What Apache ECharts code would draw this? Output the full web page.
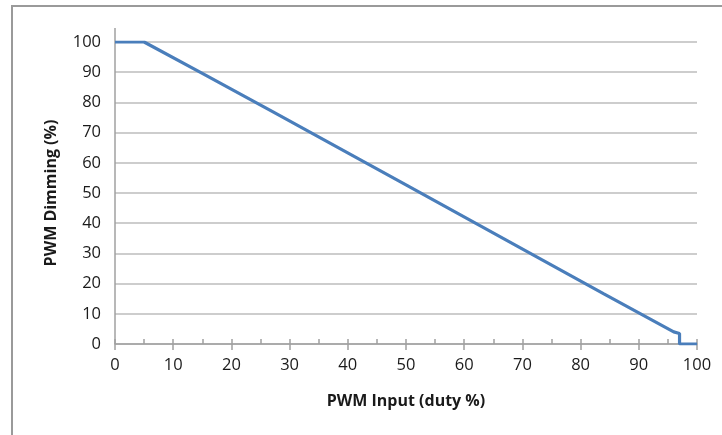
<!DOCTYPE html>
<html>
<head>
<meta charset="utf-8">
<script src="https://cdn.jsdelivr.net/npm/echarts@6/dist/echarts.min.js"></script>
<style>
html,body{margin:0;padding:0;background:#fff;}
#frame{position:absolute;left:11px;top:5px;width:800px;height:500px;border-top:2px solid #9a9a9a;border-left:2px solid #9a9a9a;}
#chart{position:absolute;left:0;top:0;width:722px;height:435px;}
</style>
</head>
<body>
<div id="frame"></div>
<div id="chart"></div>
<script>
// Data
const dutyInput = [0, 5, 15, 27, 50, 73, 84, 96, 97, 97, 100];
const dimming   = [100, 100, 89.6, 77, 52.7, 28.3, 16.6, 4, 3.5, 0, 0];
const xTicks = [0, 10, 20, 30, 40, 50, 60, 70, 80, 90, 100];
const yTicks = [0, 10, 20, 30, 40, 50, 60, 70, 80, 90, 100];
const xTitle = 'PWM Input (duty %)';
const yTitle = 'PWM Dimming (%)';

const font = '"Open Sans", "Liberation Sans", sans-serif';
const txt = '#1a1a1a';
const axisGrey = '#a0a0a0';
const points = dutyInput.map((x, i) => [x, dimming[i]]);

const chart = echarts.init(document.getElementById('chart'), null, {renderer: 'canvas'});
chart.setOption({
  animation: false,
  backgroundColor: 'transparent',
  grid: [
    {left: 115, right: 25, top: 42, bottom: 91, containLabel: false},
    {left: 115, right: 25, top: 28, bottom: 91, containLabel: false}
  ],
  xAxis: [
    {
      type: 'value', gridIndex: 0, position: 'bottom',
      min: xTicks[0], max: xTicks[xTicks.length - 1], interval: 5,
      axisLine: {show: true, lineStyle: {color: axisGrey, width: 1.5}},
      axisTick: {show: true, inside: true, length: 5, lineStyle: {color: axisGrey, width: 1.5}},
      axisLabel: {
        color: txt, fontFamily: font, fontSize: 16.5, margin: 13,
        formatter: v => (xTicks.indexOf(v) >= 0 ? String(v) : '')
      },
      splitLine: {show: false},
      name: xTitle, nameLocation: 'middle', nameGap: 49,
      nameTextStyle: {color: txt, fontFamily: font, fontSize: 16, fontWeight: 'bold'}
    },
    {
      type: 'value', gridIndex: 0, position: 'bottom',
      min: xTicks[0], max: xTicks[xTicks.length - 1], interval: 10,
      axisLine: {show: false},
      axisTick: {show: true, inside: false, length: 6, lineStyle: {color: axisGrey, width: 1.5}},
      axisLabel: {show: false},
      splitLine: {show: false}
    },
    {
      type: 'value', gridIndex: 1, min: 0, max: 100, position: 'top',
      axisLine: {show: false}, axisTick: {show: false}, axisLabel: {show: false},
      splitLine: {show: false}
    }
  ],
  yAxis: [
    {
      type: 'value', gridIndex: 0,
      min: yTicks[0], max: yTicks[yTicks.length - 1], interval: 10,
      axisLine: {show: false},
      axisTick: {show: false},
      axisLabel: {color: txt, fontFamily: font, fontSize: 16.5, margin: 14},
      splitLine: {show: true, lineStyle: {color: '#bdbdbd', width: 1.5}},
      name: yTitle, nameLocation: 'middle', nameGap: 56,
      nameTextStyle: {color: txt, fontFamily: font, fontSize: 16, fontWeight: 'bold'}
    },
    {
      type: 'value', gridIndex: 1, min: 0, max: 100, position: 'left',
      axisLine: {show: false}, axisTick: {show: false},
      axisLabel: {show: false}, splitLine: {show: false}
    }
  ],
  series: [
    {
      // vertical axis line at x = 0, spanning the taller helper grid
      type: 'line', xAxisIndex: 2, yAxisIndex: 1,
      data: [], silent: true, z: 4,
      markLine: {
        silent: true, symbol: 'none', animation: false,
        label: {show: false},
        lineStyle: {color: axisGrey, width: 1.5, type: 'solid'},
        data: [{xAxis: 0}]
      }
    },
    {
      type: 'line', xAxisIndex: 0, yAxisIndex: 0,
      data: points,
      showSymbol: false, symbol: 'none',
      lineStyle: {color: '#4a7ebb', width: 3.2},
      z: 5
    }
  ]
});
</script>
</body>
</html>
